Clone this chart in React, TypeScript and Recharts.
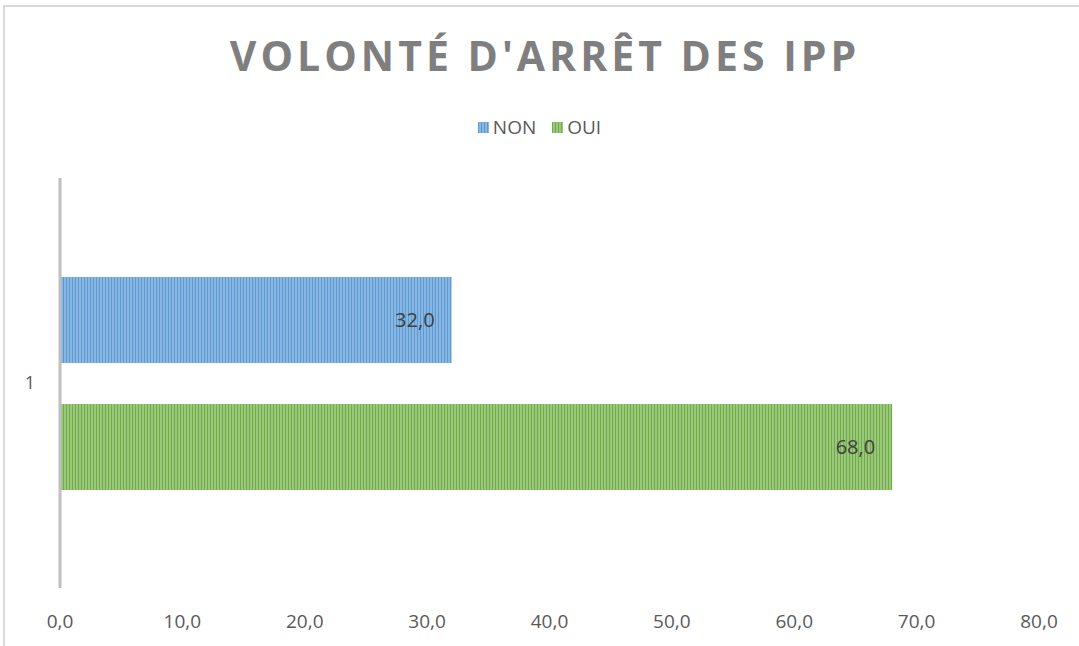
import React from "react";
import { BarChart, Bar, XAxis, YAxis, LabelList, Legend } from "recharts";

const categories = ["1"];
const nonValues = [32.0];
const ouiValues = [68.0];
const xTicks = [0, 10, 20, 30, 40, 50, 60, 70, 80];
const seriesNames = ["NON", "OUI"];
const title = "VOLONTÉ D'ARRÊT DES IPP";

const data = categories.map((c, i) => ({ cat: c, NON: nonValues[i], OUI: ouiValues[i] }));

const fmt = (v: number) => v.toFixed(1).replace(".", ",");

const FONT = "Open Sans, Noto Sans, sans-serif";

const LegendContent = () => (
  <div style={{ display: "flex", justifyContent: "center", alignItems: "center", height: 22, fontFamily: FONT, fontSize: 19, color: "#595959" }}>
    {seriesNames.map((n, i) => (
      <div key={n} style={{ display: "flex", alignItems: "center", marginRight: i === 0 ? 16 : 0 }}>
        <svg width={11} height={11} style={{ marginRight: 4 }}>
          <rect width={11} height={11} fill={i === 0 ? "url(#patNon)" : "url(#patOui)"} />
        </svg>
        <span>{n}</span>
      </div>
    ))}
  </div>
);

const YTick = (props: any) => {
  const { y, payload } = props;
  return (
    <text x={30} y={y} dy={6} textAnchor="middle" fill="#595959" fontSize={18} fontFamily={FONT}>
      {payload.value}
    </text>
  );
};

export default function App() {
  return (
    <div style={{ position: "absolute", left: 0, top: 0, width: 1079, height: 646, background: "#fff", overflow: "hidden" }}>
      <div style={{ position: "absolute", left: 3, top: 5, width: 1100, height: 700, border: "2px solid #D9D9D9", boxSizing: "border-box" }} />
      <div style={{ position: "absolute", left: 0, top: 27, width: 1090, textAlign: "center", fontFamily: FONT, fontWeight: 700, fontSize: 41, letterSpacing: 4, color: "#7F7F7F" }}>
        {title}
      </div>
      <svg width={0} height={0} style={{ position: "absolute" }}>
        <defs>
          <pattern id="patNon" width={3} height={10} patternUnits="userSpaceOnUse">
            <rect width={3} height={10} fill="#5B9BD5" />
            <rect x={1.5} width={1} height={10} fill="#B4D2EE" />
          </pattern>
          <pattern id="patOui" width={3} height={10} patternUnits="userSpaceOnUse">
            <rect width={3} height={10} fill="#70AD47" />
            <rect x={1.5} width={1} height={10} fill="#C5E2B0" />
          </pattern>
        </defs>
      </svg>
      <div style={{ position: "absolute", left: 0, top: 0 }}>
        <BarChart
          width={1079}
          height={646}
          data={data}
          layout="vertical"
          margin={{ top: 156, right: 40, bottom: 0, left: 0 }}
          barSize={86}
          barGap={41}
        >
          <defs>
            <pattern id="patNonC" width={3} height={10} patternUnits="userSpaceOnUse">
              <rect width={3} height={10} fill="#5B9BD5" />
              <rect x={1.5} width={1} height={10} fill="#B4D2EE" />
            </pattern>
            <pattern id="patOuiC" width={3} height={10} patternUnits="userSpaceOnUse">
              <rect width={3} height={10} fill="#70AD47" />
              <rect x={1.5} width={1} height={10} fill="#C5E2B0" />
            </pattern>
          </defs>
          <Legend verticalAlign="top" content={<LegendContent />} wrapperStyle={{ top: 116, left: 0, width: 1079, height: 22 }} />
          <XAxis
            type="number"
            domain={[0, 80]}
            ticks={xTicks}
            tickFormatter={fmt}
            axisLine={false}
            tickLine={false}
            tickSize={0}
            tickMargin={27}
            height={58}
            interval={0}
            tick={{ fill: "#595959", fontSize: 19, fontFamily: FONT }}
          />
          <YAxis
            type="category"
            dataKey="cat"
            width={60}
            axisLine={{ stroke: "#BFBFBF", strokeWidth: 3 }}
            tickLine={false}
            tick={<YTick />}
          />
          <Bar dataKey="NON" fill="url(#patNonC)" isAnimationActive={false}>
            <LabelList dataKey="NON" position="insideRight" offset={17} formatter={(v: any) => fmt(Number(v))} fill="#404040" fontSize={20} fontFamily={FONT} />
          </Bar>
          <Bar dataKey="OUI" fill="url(#patOuiC)" isAnimationActive={false}>
            <LabelList dataKey="OUI" position="insideRight" offset={17} formatter={(v: any) => fmt(Number(v))} fill="#404040" fontSize={20} fontFamily={FONT} />
          </Bar>
        </BarChart>
      </div>
    </div>
  );
}
